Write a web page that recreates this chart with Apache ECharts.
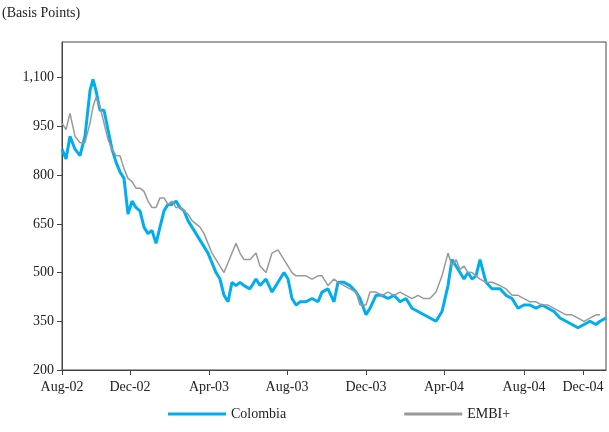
<!DOCTYPE html>
<html><head><meta charset="utf-8">
<script src="https://cdn.jsdelivr.net/npm/echarts@6/dist/echarts.min.js"></script>
<style>body{margin:0;background:#fff}#c{width:609px;height:432px}</style>
</head><body><div id="c"></div>
<script>
// time index (roughly 0 = Aug-02 ... 544 = early Jan-05)
const t = [0,4,8,13,18,23,28,31,34,38,42,46,50,54,58,62,66,70,74,78,82,86,90,94,98,102,106,110,114,118,122,126,130,134,138,142,146,150,154,158,162,166,170,174,178,182,188,194,198,204,210,216,222,226,230,234,238,244,250,256,260,266,272,276,282,288,294,298,304,308,314,320,326,332,338,344,350,356,362,368,374,380,386,390,394,398,402,406,410,414,418,424,430,438,444,450,456,462,468,474,480,486,492,498,504,510,516,522,528,534,538,544];
const colombia = [880,850,920,880,860,920,1060,1095,1060,1000,1000,940,880,840,810,790,680,720,700,690,640,620,630,590,640,690,710,710,720,700,690,660,640,620,600,580,560,530,500,480,430,410,470,460,470,460,450,480,460,480,440,470,500,480,420,400,410,410,420,410,440,450,410,470,470,460,440,420,370,390,430,430,420,430,410,420,390,380,370,360,350,380,460,540,520,500,480,500,480,490,540,470,450,450,430,420,390,400,400,390,400,390,380,360,350,340,330,340,350,340,350,360];
const embi = [960,940,990,920,900,900,960,1010,1040,1010,960,910,880,860,860,820,790,780,760,760,750,720,700,700,730,730,710,720,700,700,690,680,660,650,640,620,590,560,540,520,500,530,560,590,560,540,540,560,520,500,560,570,540,520,500,490,490,490,480,490,490,460,480,470,460,450,440,400,400,440,440,430,440,430,440,430,420,430,420,420,440,490,560,520,540,510,520,500,500,490,480,470,470,460,450,430,430,420,410,410,400,400,390,380,370,370,360,350,360,370,370];
const tickPos = [0,68,147,225,304,382,462,521];
const tickNames = ['Aug-02','Dec-02','Apr-03','Aug-03','Dec-03','Apr-04','Aug-04','Dec-04'];
const yTicks = [200,350,500,650,800,950,1100];

const pair = v => t.map((x, i) => [x, v[i]]);
const font = '"Liberation Serif", "Times New Roman", serif';
const chart = echarts.init(document.getElementById('c'));
chart.setOption({
  animation: false,
  textStyle: {fontFamily: font},
  graphic: [{type: 'text', left: 2, top: 6, style: {text: '(Basis Points)', font: '14px ' + font, fill: '#222'}}],
  grid: {left: 62, right: 3, top: 42, bottom: 62, show: true, borderColor: '#444', borderWidth: 1},
  legend: {bottom: 6, left: 163, itemGap: 118, itemWidth: 58, itemHeight: 3,
    textStyle: {fontSize: 14, color: '#222', fontFamily: font},
    data: [{name: 'Colombia', icon: 'rect'}, {name: 'EMBI+', icon: 'rect'}]},
  xAxis: {type: 'value', min: 0, max: 544,
    axisLine: {lineStyle: {color: '#444'}}, splitLine: {show: false},
    axisTick: {customValues: tickPos, lineStyle: {color: '#444'}},
    axisLabel: {customValues: tickPos, color: '#222', fontSize: 14, margin: 10,
      formatter: v => tickNames[tickPos.indexOf(v)]}},
  yAxis: {type: 'value', min: 200, max: 1210,
    axisLine: {show: true, lineStyle: {color: '#444'}}, splitLine: {show: false},
    axisTick: {show: true, customValues: yTicks, lineStyle: {color: '#444'}},
    axisLabel: {customValues: yTicks, color: '#222', fontSize: 14,
      formatter: v => v.toLocaleString('en-US')}},
  series: [
    {name: 'Colombia', type: 'line', data: pair(colombia), symbol: 'none', color: '#00AEEF', lineStyle: {width: 3}, z: 2},
    {name: 'EMBI+', type: 'line', data: pair(embi), symbol: 'none', color: '#999999', lineStyle: {width: 1.5}, z: 3}
  ]
});
</script></body></html>
